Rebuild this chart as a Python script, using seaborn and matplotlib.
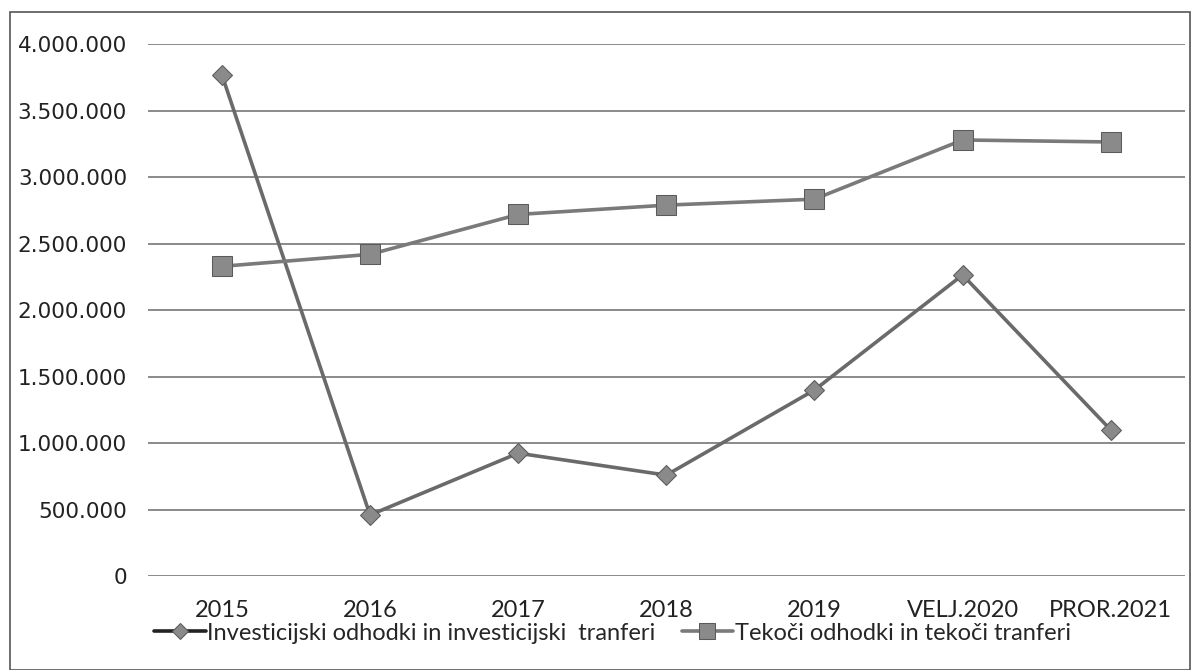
import pandas as pd
import seaborn as sns
import matplotlib.pyplot as plt
from matplotlib.patches import Rectangle
from matplotlib.ticker import FuncFormatter

# data
years = ['2015', '2016', '2017', '2018', '2019', 'VELJ.2020', 'PROR.2021']
investicijski = [3770000, 460000, 925000, 760000, 1400000, 2265000, 1100000]
tekoci = [2330000, 2420000, 2720000, 2790000, 2835000, 3280000, 3265000]
names = ['Investicijski odhodki in investicijski  tranferi',
         'Tekoči odhodki in tekoči tranferi']

df = pd.DataFrame({'leto': years * 2,
                   'znesek': investicijski + tekoci,
                   'serija': [names[0]] * len(years) + [names[1]] * len(years)})
df['x'] = list(range(len(years))) * 2

sns.set_style('white')
plt.rcParams['font.family'] = ['DejaVu Sans']

fig = plt.figure(figsize=(11.92, 6.70), dpi=100)
ax = fig.add_axes([0.124, 0.140, 0.870, 0.794])

# outer frame of the chart
fig.patches.append(Rectangle((0.008, 0.0), 0.99, 0.982, transform=fig.transFigure,
                             fill=False, edgecolor='#555555', linewidth=1.2))

sns.lineplot(data=df, x='x', y='znesek', hue='serija', style='serija',
             palette=['#6a6a6a', '#7a7a7a'], markers=['D', 's'], dashes=False,
             linewidth=2.6, markersize=12, markeredgecolor='#5a5a5a',
             markerfacecolor='#8a8a8a', ax=ax, legend=True)

# square markers a bit bigger
for line in ax.get_lines():
    if line.get_marker() == 's':
        line.set_markersize(14)
    else:
        line.set_markersize(10)

ax.set_xlim(-0.5, len(years) - 0.5)
ax.set_ylim(0, 4000000)
ax.set_yticks(range(0, 4000001, 500000))
ax.yaxis.set_major_formatter(FuncFormatter(lambda v, p: f'{int(v):,}'.replace(',', '.')))
ax.set_xticks(range(len(years)))
ax.set_xticklabels(years, family=['Lato', 'DejaVu Sans'], fontsize=17)
ax.tick_params(axis='y', labelsize=15.5, pad=15, length=0, colors='#222222')
ax.tick_params(axis='x', length=0, pad=17, colors='#222222')
ax.grid(axis='y', color='#777777', linewidth=1.2)
for s in ax.spines.values():
    s.set_visible(False)
ax.set_xlabel('')
ax.set_ylabel('')

handles, labels = ax.get_legend_handles_labels()
handles[0].set_color('#222222')
handles[0].set_markersize(8)
handles[1].set_markersize(11)
ax.legend(handles, labels, loc='center', bbox_to_anchor=(0.448, -0.107), ncol=2,
          frameon=False, prop={'family': ['Lato', 'DejaVu Sans'], 'size': 17},
          handlelength=2.2, handletextpad=0.05, columnspacing=1.1,
          borderpad=0, borderaxespad=0)

fig.savefig('out.png', dpi=100)
